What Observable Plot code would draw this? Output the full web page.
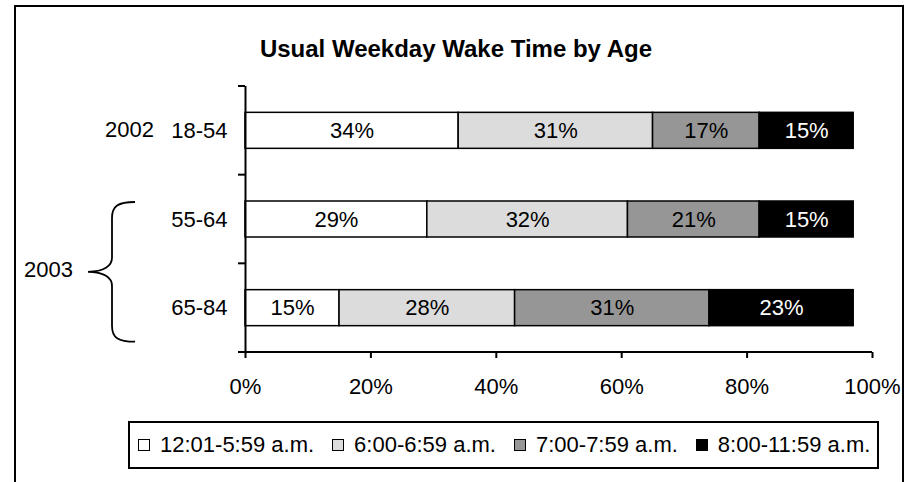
<!DOCTYPE html>
<html>
<head>
<meta charset="utf-8">
<script src="https://cdn.jsdelivr.net/npm/d3@7"></script>
<script src="https://cdn.jsdelivr.net/npm/@observablehq/plot@0.6"></script>
<style>
  html, body { margin: 0; padding: 0; background: #fff; overflow: hidden; }
  body { width: 912px; height: 482px; position: relative; font-family: "Liberation Sans", Arial, sans-serif; }
  #frame { position: absolute; left: 14px; top: 5px; width: 890px; height: 600px; border: 2px solid #000; box-sizing: border-box; }
  #title { position: absolute; left: 0; top: 35px; width: 912px; text-align: center; font-weight: bold; font-size: 24px; line-height: 28px; color: #000; }
  #chart { position: absolute; left: 0; top: 0; }
  #legend { position: absolute; left: 128px; top: 421px; width: 751px; height: 48px; border: 2px solid #000; box-sizing: border-box; background: #fff;
            display: flex; align-items: center; padding-left: 8px; font-size: 22px; color: #000; white-space: nowrap; }
  .item { display: flex; align-items: center; margin-right: 18px; }
  .sw { width: 12px; height: 12px; border: 1.5px solid #000; box-sizing: border-box; margin-right: 10px; }
</style>
</head>
<body>
<div id="frame"></div>
<div id="title">Usual Weekday Wake Time by Age</div>
<div id="chart"></div>
<div id="legend"></div>
<script>
// ---- data ----
const ages = ["18-54", "55-64", "65-84"];
const periods = ["12:01-5:59 a.m.", "6:00-6:59 a.m.", "7:00-7:59 a.m.", "8:00-11:59 a.m."];
const values1854 = [34, 31, 17, 15];
const values5564 = [29, 32, 21, 15];
const values6584 = [15, 28, 31, 23];
const periodColors = ["#ffffff", "#dcdcdc", "#969696", "#000000"];
const xTicks = [0, 20, 40, 60, 80, 100];
const yearGroups = [
  {label: "2002", ages: ["18-54"]},
  {label: "2003", ages: ["55-64", "65-84"]}
];

const seriesByAge = {"18-54": values1854, "55-64": values5564, "65-84": values6584};
const data = [];
for (const age of ages) {
  seriesByAge[age].forEach((v, i) => data.push({age, period: periods[i], value: v}));
}
const darkPeriod = periods[periods.length - 1];

const FONT = "'Liberation Sans', Arial, sans-serif";

const plot = Plot.plot({
  width: 912,
  height: 410,
  marginLeft: 245,
  marginRight: 40,
  marginTop: 86,
  marginBottom: 58,
  style: {fontFamily: FONT, fontSize: "22px", color: "#000", background: "transparent", overflow: "visible"},
  x: {domain: [0, 100], label: null},
  y: {domain: ages, paddingInner: 0.594, paddingOuter: 0.297, round: false, label: null},
  color: {domain: periods, range: periodColors},
  marks: [
    Plot.barX(data, Plot.stackX({x: "value", y: "age", fill: "period", stroke: "#000", strokeWidth: 1.5})),
    Plot.text(data, Plot.stackX({x: "value", y: "age", text: d => d.period === darkPeriod ? null : d.value + "%", fill: "#000", fontSize: 22, fontFamily: FONT})),
    Plot.text(data, Plot.stackX({x: "value", y: "age", text: d => d.period === darkPeriod ? d.value + "%" : null, fill: "#fff", fontSize: 22, fontFamily: FONT})),
    Plot.ruleX([0], {stroke: "#000", strokeWidth: 2}),
    Plot.axisX({ticks: xTicks, tickSize: 6, tickPadding: 20, tickFormat: d => d + "%", fontSize: 22, label: null, stroke: "#000", strokeWidth: 2, strokeOpacity: 1}),
    Plot.axisY({tickSize: 0, tickPadding: 18, fontSize: 22, label: null})
  ]
});
document.getElementById("chart").appendChild(plot);

// ---- extra axis structure, year labels and brace, from the scales ----
const xs = plot.scale("x"), ys = plot.scale("y");
const yApply = ys.apply ? (v => ys.apply(v)) : (v => ys.range[0] + ys.step * (ys.paddingOuter + ys.domain.indexOf(v)));
const x0 = xs.apply ? xs.apply(0) : xs.range[0];
const x1 = xs.apply ? xs.apply(100) : xs.range[1];
const yTop = ys.range[0], yBot = ys.range[1];
const svg = d3.select(plot);
const g = svg.append("g").attr("stroke", "#000").attr("fill", "none");
// bottom axis line
g.append("line").attr("x1", x0).attr("x2", x1).attr("y1", yBot).attr("y2", yBot).attr("stroke-width", 2);
// category boundary ticks on the y axis
for (let i = 0; i <= ages.length; i++) {
  const yy = yTop + i * ys.step;
  g.append("line").attr("x1", x0 - 7).attr("x2", x0).attr("y1", yy).attr("y2", yy).attr("stroke-width", 2);
}
const bw = ys.bandwidth;
// year labels
for (const grp of yearGroups) {
  if (grp.ages.length === 1) {
    const cy = yApply(grp.ages[0]) + bw / 2;
    svg.append("text").attr("x", x0 - 91).attr("y", cy).attr("dy", "0.32em").attr("text-anchor", "end")
      .attr("font-size", 22).attr("font-family", FONT).attr("fill", "#000").text(grp.label);
  } else {
    const top = yApply(grp.ages[0]) + 1;
    const bottom = yApply(grp.ages[grp.ages.length - 1]) + bw + 16;
    const mid = (top + bottom) / 2;
    const xe = 135, xv = 112, xt = 88;
    const path = `M${xe},${top} C${xv + 6},${top} ${xv},${top + 4} ${xv},${top + 16} L${xv},${mid - 14} C${xv},${mid - 6} ${xv - 8},${mid} ${xt},${mid} C${xv - 8},${mid} ${xv},${mid + 6} ${xv},${mid + 14} L${xv},${bottom - 16} C${xv},${bottom - 4} ${xv + 6},${bottom} ${xe},${bottom}`;
    g.append("path").attr("d", path).attr("stroke-width", 1.8);
    svg.append("text").attr("x", 73).attr("y", mid - 2).attr("dy", "0.32em").attr("text-anchor", "end")
      .attr("font-size", 22).attr("font-family", FONT).attr("fill", "#000").text(grp.label);
  }
}

// ---- legend ----
const legend = d3.select("#legend");
periods.forEach((p, i) => {
  const it = legend.append("div").attr("class", "item");
  it.append("div").attr("class", "sw").style("background", periodColors[i]);
  it.append("span").text(p);
});
</script>
</body>
</html>
